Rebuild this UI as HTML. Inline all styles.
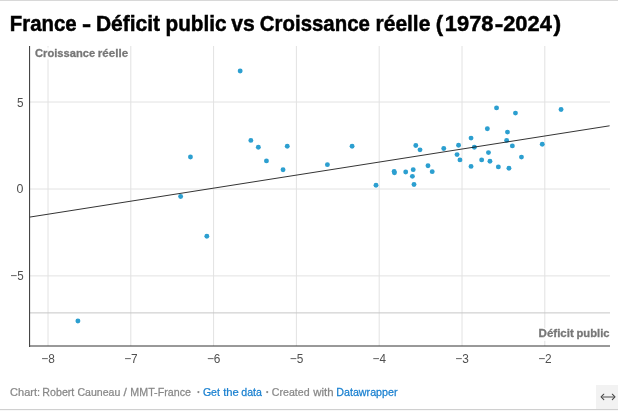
<!DOCTYPE html>
<html lang="fr"><head><meta charset="utf-8"><title>France - Déficit public vs Croissance réelle (1978-2024)</title>
<style>
html,body{margin:0;padding:0;background:#fff;}
body{width:618px;height:411px;position:relative;overflow:hidden;font-family:"Liberation Sans",sans-serif;}
svg{position:absolute;left:0;top:0;display:block;}
svg text{font-family:"Liberation Sans",sans-serif;white-space:pre;}
</style></head><body>
<svg width="618" height="411" viewBox="0 0 618 411">
<rect x="0" y="0" width="618" height="1" fill="#d8d8d8"/>
<rect x="0" y="409" width="618" height="1" fill="#d0d0d0"/>
<rect x="0" y="410" width="618" height="1" fill="#f8f8f8"/>
<g stroke="#e2e2e2" stroke-width="1" fill="none">
<line x1="48.0" x2="48.0" y1="46" y2="346"/>
<line x1="130.8" x2="130.8" y1="46" y2="346"/>
<line x1="213.6" x2="213.6" y1="46" y2="346"/>
<line x1="296.4" x2="296.4" y1="46" y2="346"/>
<line x1="379.2" x2="379.2" y1="46" y2="346"/>
<line x1="462.0" x2="462.0" y1="46" y2="346"/>
<line x1="544.8" x2="544.8" y1="46" y2="346"/>
<line x1="30" x2="610" y1="102" y2="102"/>
<line x1="30" x2="610" y1="189" y2="189"/>
<line x1="30" x2="610" y1="275.9" y2="275.9"/>
</g>
<line x1="30" x2="610" y1="312.9" y2="312.9" stroke="#c6c6c6" stroke-width="1"/>
<g fill="#2c9fd0">
<circle cx="77.90" cy="321.00" r="2.45"/>
<circle cx="206.85" cy="236.30" r="2.45"/>
<circle cx="180.65" cy="196.50" r="2.45"/>
<circle cx="190.45" cy="157.05" r="2.45"/>
<circle cx="240.15" cy="71.00" r="2.45"/>
<circle cx="250.85" cy="140.40" r="2.45"/>
<circle cx="258.35" cy="147.30" r="2.45"/>
<circle cx="266.45" cy="160.90" r="2.45"/>
<circle cx="283.05" cy="169.70" r="2.45"/>
<circle cx="287.25" cy="146.20" r="2.45"/>
<circle cx="327.40" cy="164.65" r="2.45"/>
<circle cx="352.10" cy="146.25" r="2.45"/>
<circle cx="376.00" cy="185.25" r="2.45"/>
<circle cx="394.15" cy="171.55" r="2.45"/>
<circle cx="394.45" cy="172.85" r="2.45"/>
<circle cx="405.70" cy="171.95" r="2.45"/>
<circle cx="413.20" cy="169.65" r="2.45"/>
<circle cx="412.40" cy="176.35" r="2.45"/>
<circle cx="414.00" cy="184.45" r="2.45"/>
<circle cx="415.80" cy="145.45" r="2.45"/>
<circle cx="420.00" cy="149.85" r="2.45"/>
<circle cx="428.00" cy="165.75" r="2.45"/>
<circle cx="432.20" cy="171.65" r="2.45"/>
<circle cx="443.75" cy="148.50" r="2.45"/>
<circle cx="458.55" cy="145.30" r="2.45"/>
<circle cx="457.05" cy="154.60" r="2.45"/>
<circle cx="459.95" cy="159.90" r="2.45"/>
<circle cx="471.05" cy="138.10" r="2.45"/>
<circle cx="474.35" cy="147.20" r="2.45"/>
<circle cx="471.05" cy="166.40" r="2.45"/>
<circle cx="481.65" cy="159.90" r="2.45"/>
<circle cx="487.35" cy="128.70" r="2.45"/>
<circle cx="488.45" cy="152.60" r="2.45"/>
<circle cx="489.95" cy="161.20" r="2.45"/>
<circle cx="496.55" cy="107.90" r="2.45"/>
<circle cx="498.35" cy="166.90" r="2.45"/>
<circle cx="507.45" cy="132.10" r="2.45"/>
<circle cx="506.65" cy="140.40" r="2.45"/>
<circle cx="508.95" cy="168.20" r="2.45"/>
<circle cx="512.35" cy="145.90" r="2.45"/>
<circle cx="515.45" cy="113.10" r="2.45"/>
<circle cx="521.45" cy="157.10" r="2.45"/>
<circle cx="542.25" cy="144.30" r="2.45"/>
<circle cx="561.05" cy="109.50" r="2.45"/>
</g>
<line x1="29.7" x2="609.6" y1="217.1" y2="125.8" stroke="#000" stroke-width="0.8"/>
<line x1="29.6" x2="29.6" y1="46" y2="347" stroke="#333" stroke-width="1"/>
<line x1="30" x2="610" y1="346" y2="346" stroke="#333" stroke-width="1"/>
<rect x="34" y="47.5" width="95.5" height="12" rx="2" fill="#fff" opacity="0.8"/>
<rect x="537.5" y="328" width="72.5" height="13" rx="2" fill="#fff" opacity="0.8"/>
<text transform="translate(9.83,30.6) scale(0.8971,1)" font-size="22.7" font-weight="bold" fill="#000" stroke="#000" stroke-width="0.5">France</text>
<text transform="translate(82.04,30.6) scale(1.2107,1)" font-size="22.7" font-weight="bold" fill="#000" stroke="#000" stroke-width="0.5">-</text>
<text transform="translate(95.89,30.6) scale(0.9256,1)" font-size="22.7" font-weight="bold" fill="#000" stroke="#000" stroke-width="0.5">Déficit</text>
<text transform="translate(165.50,30.6) scale(0.9128,1)" font-size="22.7" font-weight="bold" fill="#000" stroke="#000" stroke-width="0.5">public</text>
<text transform="translate(231.20,30.6) scale(0.9289,1)" font-size="22.7" font-weight="bold" fill="#000" stroke="#000" stroke-width="0.5">vs</text>
<text transform="translate(259.86,30.6) scale(0.8991,1)" font-size="22.7" font-weight="bold" fill="#000" stroke="#000" stroke-width="0.5">Croissance</text>
<text transform="translate(375.59,30.6) scale(0.9226,1)" font-size="22.7" font-weight="bold" fill="#000" stroke="#000" stroke-width="0.5">réelle</text>
<text transform="translate(435.77,30.6) scale(0.9645,1)" font-size="22.7" font-weight="bold" fill="#000" stroke="#000" stroke-width="0.5">(</text>
<text transform="translate(444.83,30.6) scale(0.9647,1)" font-size="22.7" font-weight="bold" fill="#000" stroke="#000" stroke-width="0.5">1978</text>
<text transform="translate(494.80,30.6) scale(1.1278,1)" font-size="22.7" font-weight="bold" fill="#000" stroke="#000" stroke-width="0.5">-</text>
<text transform="translate(503.22,30.6) scale(0.9633,1)" font-size="22.7" font-weight="bold" fill="#000" stroke="#000" stroke-width="0.5">2024</text>
<text transform="translate(553.60,30.6) scale(1.0090,1)" font-size="22.7" font-weight="bold" fill="#000" stroke="#000" stroke-width="0.5">)</text>
<text transform="translate(10.08,395.8) scale(0.9668,1)" font-size="11.4" fill="#888" stroke="#888" stroke-width="0.25">Chart:</text>
<text transform="translate(42.37,395.8) scale(0.9351,1)" font-size="11.4" fill="#888" stroke="#888" stroke-width="0.25">Robert</text>
<text transform="translate(77.40,395.8) scale(0.9268,1)" font-size="11.4" fill="#888" stroke="#888" stroke-width="0.25">Cauneau</text>
<text transform="translate(123.62,395.8) scale(1.0500,1)" font-size="11.4" fill="#888" stroke="#888" stroke-width="0.25">/</text>
<text transform="translate(130.36,395.8) scale(0.9391,1)" font-size="11.4" fill="#888" stroke="#888" stroke-width="0.25">MMT-France</text>
<text transform="translate(202.90,395.8) scale(0.9284,1)" font-size="11.4" fill="#1a80d0" stroke="#1a80d0" stroke-width="0.25">Get</text>
<text transform="translate(223.20,395.8) scale(0.9879,1)" font-size="11.4" fill="#1a80d0" stroke="#1a80d0" stroke-width="0.25">the</text>
<text transform="translate(241.27,395.8) scale(0.9313,1)" font-size="11.4" fill="#1a80d0" stroke="#1a80d0" stroke-width="0.25">data</text>
<text transform="translate(271.80,395.8) scale(0.9319,1)" font-size="11.4" fill="#888" stroke="#888" stroke-width="0.25">Created</text>
<text transform="translate(313.28,395.8) scale(1.0045,1)" font-size="11.4" fill="#888" stroke="#888" stroke-width="0.25">with</text>
<text transform="translate(336.26,395.8) scale(0.9406,1)" font-size="11.4" fill="#1a80d0" stroke="#1a80d0" stroke-width="0.25">Datawrapper</text>
<text transform="translate(35.05,56.7) scale(0.9614,1)" font-size="11.6" font-weight="bold" fill="#777" stroke="#777" stroke-width="0.3">Croissance</text>
<text transform="translate(97.82,56.7) scale(1.0017,1)" font-size="11.6" font-weight="bold" fill="#777" stroke="#777" stroke-width="0.3">réelle</text>
<text transform="translate(538.58,337.4) scale(0.9951,1)" font-size="11.6" font-weight="bold" fill="#777" stroke="#777" stroke-width="0.3">Déficit</text>
<text transform="translate(576.50,337.4) scale(0.9686,1)" font-size="11.6" font-weight="bold" fill="#777" stroke="#777" stroke-width="0.3">public</text>
<text transform="translate(41.34,363.0) scale(0.9576,1)" font-size="12.4" fill="#505050">−8</text>
<text transform="translate(124.14,363.0) scale(0.9576,1)" font-size="12.4" fill="#505050">−7</text>
<text transform="translate(206.94,363.0) scale(0.9576,1)" font-size="12.4" fill="#505050">−6</text>
<text transform="translate(289.74,363.0) scale(0.9576,1)" font-size="12.4" fill="#505050">−5</text>
<text transform="translate(372.55,363.0) scale(0.9436,1)" font-size="12.4" fill="#505050">−4</text>
<text transform="translate(455.34,363.0) scale(0.9576,1)" font-size="12.4" fill="#505050">−3</text>
<text transform="translate(538.14,363.0) scale(0.9576,1)" font-size="12.4" fill="#505050">−2</text>
<text transform="translate(17.03,107.0) scale(0.9490,1)" font-size="12.4" fill="#505050">5</text>
<text transform="translate(16.51,193.0) scale(1.0000,1)" font-size="12.4" fill="#505050">0</text>
<text transform="translate(10.36,280.0) scale(0.9346,1)" font-size="12.4" fill="#505050">−5</text>
<circle cx="198.4" cy="392.1" r="1.1" fill="#888"/>
<circle cx="267.2" cy="392.1" r="1.1" fill="#888"/>
<rect x="596" y="385" width="22" height="24" fill="#f2f2f2"/>
<g stroke="#444" stroke-width="1.05" fill="none" stroke-linecap="round" stroke-linejoin="round">
<rect x="602.3" y="396" width="11.6" height="2" fill="#a0a0a0" stroke="none"/>
<polyline points="603.8,394.2 601.1,396.95 603.8,399.7"/>
<polyline points="612.3,394.2 615.0,396.95 612.3,399.7"/>
</g>
</svg>
</body></html>
